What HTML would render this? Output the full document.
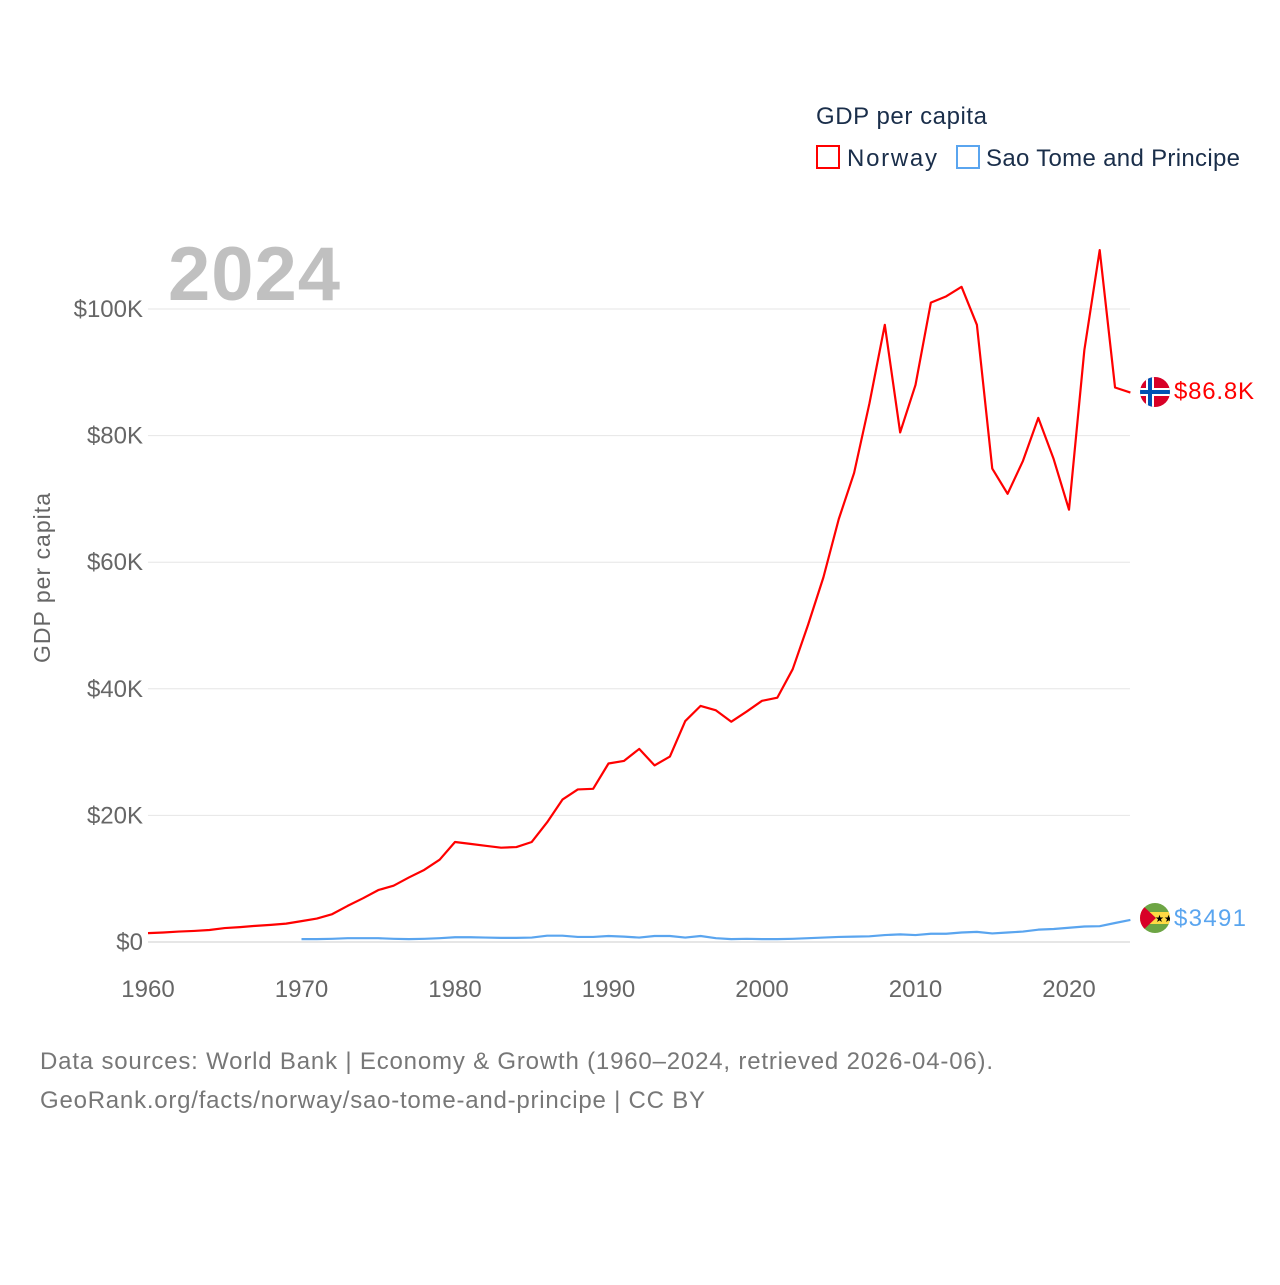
<!DOCTYPE html>
<html><head><meta charset="utf-8"><style>
body{margin:0;background:#fff;font-family:"Liberation Sans",sans-serif;}
svg text{font-family:"Liberation Sans",sans-serif;}
</style></head><body>
<svg id="chart" width="1280" height="1280" viewBox="0 0 1280 1280">
<rect width="1280" height="1280" fill="#fff"/>
<g id="grid"></g><g id="ticks"></g>
<text x="168" y="300" font-size="76" font-weight="bold" fill="#c0c0c0" textLength="172">2024</text>
<text transform="translate(50,578) rotate(-90)" text-anchor="middle" font-size="23" fill="#666" textLength="170">GDP per capita</text>
<g id="series"></g>
<g>
<text x="816" y="124" font-size="24" fill="#1a2e4a" textLength="171">GDP per capita</text>
<g><rect x="817" y="146" width="22" height="22" fill="none" stroke="#ff0000" stroke-width="2"/><text x="847" y="166" font-size="24" fill="#1a2e4a" textLength="90">Norway</text></g>
<g><rect x="957" y="146" width="22" height="22" fill="none" stroke="#5aa5ef" stroke-width="2"/><text x="986" y="166" font-size="24" fill="#1a2e4a" textLength="254">Sao Tome and Principe</text></g>
</g>
<g>
<clipPath id="c1"><circle cx="1155" cy="392" r="15"/></clipPath>
<g clip-path="url(#c1)"><rect x="1140" y="377" width="30" height="30" fill="#d80027"/><rect x="1146" y="377" width="8" height="30" fill="#fff"/><rect x="1140" y="388" width="30" height="8" fill="#fff"/><rect x="1148" y="377" width="4" height="30" fill="#0052b4"/><rect x="1140" y="390" width="30" height="4" fill="#0052b4"/></g></g>
<g>
<clipPath id="c2"><circle cx="1155" cy="918" r="15"/></clipPath>
<g clip-path="url(#c2)"><rect x="1140" y="903" width="30" height="30" fill="#6da544"/><rect x="1140" y="912" width="30" height="12" fill="#ffda44"/><polygon points="1140,903 1156,918 1140,933" fill="#d80027"/><text x="1155" y="922" font-size="10" fill="#000">★★</text></g></g>
<text x="1174" y="399" font-size="24" fill="#ff0000" textLength="80">$86.8K</text>
<text x="1174" y="926" font-size="24" fill="#5aa5ef" textLength="72">$3491</text>
<text x="40" y="1069" font-size="24" fill="#777" textLength="953">Data sources: World Bank | Economy &amp; Growth (1960–2024, retrieved 2026-04-06).</text>
<text x="40" y="1108" font-size="24" fill="#777" textLength="665">GeoRank.org/facts/norway/sao-tome-and-principe | CC BY</text>
</svg>
<script>
const yTicks=[0,20,40,60,80,100];
const yTickLabels=["$0","$20K","$40K","$60K","$80K","$100K"];
const xTicks=[1960,1970,1980,1990,2000,2010,2020];
const norwayStart=1960;
const norway=[1.4,1.5,1.65,1.75,1.9,2.2,2.35,2.55,2.7,2.9,3.3,3.7,4.4,5.7,6.9,8.2,8.9,10.2,11.4,13.0,15.8,15.5,15.2,14.9,15.0,15.8,18.9,22.5,24.1,24.2,28.2,28.6,30.5,27.9,29.3,34.9,37.3,36.6,34.8,36.4,38.1,38.6,43.1,50.1,57.6,66.8,74.1,85.1,97.5,80.5,88.0,101.0,102.0,103.5,97.5,74.8,70.8,76.0,82.8,76.3,68.3,93.5,109.3,87.6,86.8];
const stpStart=1970;
const stp=[0.45,0.45,0.5,0.6,0.6,0.6,0.5,0.45,0.5,0.6,0.75,0.75,0.7,0.65,0.65,0.7,1.0,1.0,0.8,0.8,0.95,0.85,0.7,0.95,0.95,0.7,0.95,0.6,0.45,0.5,0.45,0.45,0.5,0.6,0.7,0.8,0.85,0.9,1.1,1.2,1.1,1.3,1.3,1.5,1.6,1.35,1.5,1.65,1.95,2.05,2.25,2.45,2.5,3.0,3.491];
const X=y=>148+(y-1960)*(1069-148)/60;
const Y=v=>942-v*(942-309)/100;
const ns="http://www.w3.org/2000/svg";
const grid=document.getElementById('grid'),ticks=document.getElementById('ticks'),series=document.getElementById('series');
yTicks.forEach((t,i)=>{
 const l=document.createElementNS(ns,'line');
 l.setAttribute('x1',148);l.setAttribute('x2',1130);l.setAttribute('y1',Y(t));l.setAttribute('y2',Y(t));
 l.setAttribute('stroke',t===0?'#ccc':'#e6e6e6');l.setAttribute('stroke-width',1);
 
 
 grid.appendChild(l);
 const tx=document.createElementNS(ns,'text');
 tx.setAttribute('x',143);tx.setAttribute('y',Y(t)+8);tx.setAttribute('text-anchor','end');tx.setAttribute('font-size',24);tx.setAttribute('fill','#666');
 tx.textContent=yTickLabels[i];
 
 
 ticks.appendChild(tx);
});
xTicks.forEach(t=>{
 const tx=document.createElementNS(ns,'text');
 tx.setAttribute('x',X(t));tx.setAttribute('y',997);tx.setAttribute('text-anchor','middle');tx.setAttribute('font-size',24);tx.setAttribute('fill','#666');
 tx.textContent=t;
 
 
 ticks.appendChild(tx);
});
function line(arr,start,color,name){
 const p=document.createElementNS(ns,'polyline');
 p.setAttribute('points',arr.map((v,i)=>X(start+i)+','+Y(v)).join(' '));
 p.setAttribute('fill','none');p.setAttribute('stroke',color);p.setAttribute('stroke-width',2.2);p.setAttribute('stroke-linejoin','round');
 
 
 series.appendChild(p);
}
line(stp,stpStart,'#5aa5ef','sao-tome-line');
line(norway,norwayStart,'#ff0000','norway-line');
</script>
</body></html>
